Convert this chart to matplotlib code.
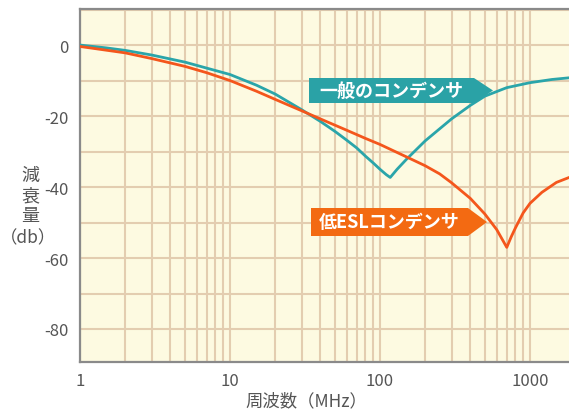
import matplotlib
matplotlib.use('Agg')
import numpy as np
import matplotlib.pyplot as plt
from matplotlib.patches import Polygon
from matplotlib.ticker import FixedLocator, NullFormatter

plt.rcParams['font.family'] = ['Noto Sans CJK JP', 'DejaVu Sans']

# general capacitor (teal)
freq_std = [1, 1.5, 2, 3, 5, 7, 10, 15, 20, 30, 40, 50, 60, 70, 80, 90, 100, 110, 117,
            130, 150, 200, 300, 400, 500, 700, 1000, 1400, 1850]
db_std = [0, -0.8, -1.5, -2.8, -4.8, -6.5, -8.3, -11.3, -13.8, -18.2, -21.5, -24.3, -26.8,
          -29.0, -31.3, -33.2, -35.0, -36.5, -37.3, -35.0, -32.2, -27.0, -20.8, -17.0,
          -14.4, -12.0, -10.6, -9.7, -9.2]

# low ESL capacitor (orange)
freq_esl = [1, 2, 3, 5, 7, 10, 15, 20, 30, 40, 60, 80, 100, 150, 200, 250, 300, 400, 500,
            600, 700, 750, 800, 900, 1000, 1200, 1500, 1850]
db_esl = [-0.4, -2.2, -3.8, -6.0, -7.8, -10.0, -13.0, -15.3, -18.5, -20.8, -24.0, -26.3,
          -28.0, -31.5, -34.0, -36.3, -38.8, -43.2, -47.6, -52.0, -57.0, -54.0, -51.5,
          -47.3, -44.6, -41.5, -38.7, -37.2]

yticks = [0, -20, -40, -60, -80]
xticks = [1, 10, 100, 1000]

teal = '#2aa5aa'
orange = '#f4561c'

fig = plt.figure(figsize=(5.69, 4.14), dpi=100)
ax = fig.add_axes([80 / 569, 1 - 363 / 414, 1 - 80 / 569, (363 - 9.5) / 414])
ax.set_facecolor('#fdfae1')

ax.set_xscale('log')
ax.set_xlim(1, 10 ** (489 / 150))
ax.set_ylim(-89.3, 10.3)

# grid
minors = [m * 10 ** d for d in range(4) for m in range(2, 10)]
ax.xaxis.set_minor_locator(FixedLocator(minors))
ax.xaxis.set_minor_formatter(NullFormatter())
ax.set_xticks(xticks, [str(t) for t in xticks])
ax.set_yticks(yticks, [str(t) for t in yticks])
ax.yaxis.set_minor_locator(FixedLocator(list(range(-90, 11, 10))))
ax.grid(True, which='both', color='#e3cdb0', linewidth=1.5)
ax.set_axisbelow(True)
ax.tick_params(which='both', length=0)
ax.tick_params(axis='both', labelsize=12, labelcolor='#555555')
ax.tick_params(axis='x', pad=7)
ax.tick_params(axis='y', pad=8)

for s in ['left', 'bottom', 'top']:
    ax.spines[s].set_color('#8a8a8a')
    ax.spines[s].set_linewidth(1.6)
ax.spines['right'].set_visible(False)

ax.plot(freq_std, db_std, color=teal, linewidth=2.0, zorder=3)
ax.plot(freq_esl, db_esl, color=orange, linewidth=2.0, zorder=3)

# arrow-shaped labels (pixel coords -> figure fraction)
def tag(x0, x1, xtip, ytop, ybot, color, text):
    W, H = 569, 414
    ymid = (ytop + ybot) / 2
    pts = [(x0, ytop), (x1, ytop), (xtip, ymid), (x1, ybot), (x0, ybot)]
    pts = [(x / W, 1 - y / H) for x, y in pts]
    fig.add_artist(Polygon(pts, closed=True, facecolor=color, edgecolor='none',
                           transform=fig.transFigure, zorder=5))
    fig.text((x0 + x1) / 2 / W, 1 - ymid / H, text, color='white', fontsize=13,
             fontweight='bold', ha='center', va='center', zorder=6)

tag(309, 474, 493, 79, 104, '#2aa2a6', '一般のコンデンサ')
tag(311, 468, 487, 209, 237, '#f36a12', '低ESLコンデンサ')

# axis labels
fig.text(306 / 569, 1 - 401 / 414, '周波数（MHz）', fontsize=12.5, color='#555555',
         ha='center', va='center')
for i, ch in enumerate(['減', '衰', '量']):
    fig.text(30 / 569, 1 - (176 + i * 20) / 414, ch, fontsize=13, color='#555555',
             ha='center', va='center')
fig.text(28 / 569, 1 - 238 / 414, '（db）', fontsize=12.5, color='#555555',
         ha='center', va='center')

fig.savefig('out.png', dpi=100)
